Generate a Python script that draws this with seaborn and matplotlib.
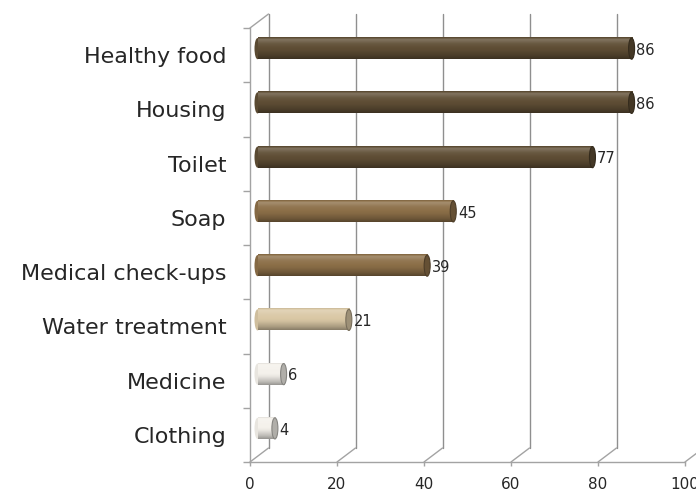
import numpy as np
import matplotlib
matplotlib.use("Agg")
import matplotlib.pyplot as plt
import matplotlib.transforms as mtransforms
from matplotlib.patches import Ellipse
from matplotlib.colors import to_rgb
import seaborn as sns

# Data
categories = ["Healthy food", "Housing", "Toilet", "Soap",
              "Medical check-ups", "Water treatment", "Medicine", "Clothing"]
values = [86, 86, 77, 45, 39, 21, 6, 4]
bar_colors = ["#5f4e35", "#5f4e35", "#5f4e35", "#8c6f48", "#8c6f48",
              "#dac8a5", "#f4f1eb", "#f4f1eb"]
x_ticks = [0, 20, 40, 60, 80, 100]

sns.set_theme(style="white")
plt.rcParams["font.family"] = ["DejaVu Sans"]

DPI = 100
fig = plt.figure(figsize=(6.96, 4.92), dpi=DPI)
# front plane of the pseudo-3D box
ax = fig.add_axes([250 / 696, 30 / 492, 435 / 696, 434 / 492])

sns.barplot(x=values, y=categories, hue=categories, palette=bar_colors,
            legend=False, orient="h", width=0.39, saturation=1, ax=ax,
            zorder=2)

ax.set_xlim(0, 100)
ax.set_ylim(7.5, -0.5)

grid_c = "#8f8f8f"
axis_c = "#a3a3a3"
text_c = "#262626"

# depth offsets (in inches at this dpi)
back_dx, back_dy = 18.5, 14
bar_dx, bar_dy = 7.5, 6.5
back_tr = ax.transData + mtransforms.ScaledTranslation(back_dx / DPI, back_dy / DPI, fig.dpi_scale_trans)
mid_tr = ax.transData + mtransforms.ScaledTranslation(bar_dx / DPI, bar_dy / DPI, fig.dpi_scale_trans)

# back wall gridlines and floor edges
for xv in x_ticks:
    ax.plot([xv, xv], [-0.5, 7.5], color=grid_c, lw=1.0, transform=back_tr,
            clip_on=False, zorder=0)
    ax.annotate("", xy=(xv, 7.5), xytext=(back_dx, back_dy),
                textcoords="offset pixels", annotation_clip=False,
                arrowprops=dict(arrowstyle="-", color=axis_c, lw=1.0,
                                shrinkA=0, shrinkB=0), zorder=0)
# left wall top edge
ax.annotate("", xy=(0, -0.5), xytext=(back_dx, back_dy),
            textcoords="offset pixels", annotation_clip=False,
            arrowprops=dict(arrowstyle="-", color=axis_c, lw=1.0,
                            shrinkA=0, shrinkB=0), zorder=0)


def shade(rgb, f):
    rgb = np.asarray(rgb)
    if f >= 1:
        return rgb + (1 - rgb) * (f - 1)
    return rgb * f


# cylinder shading across the bar height (top -> bottom)
t_knots = [0.0, 0.1, 0.3, 0.6, 0.85, 1.0]
f_knots = [0.9, 1.22, 1.06, 0.96, 0.78, 0.62]
t = np.linspace(0, 1, 64)
prof = np.interp(t, t_knots, f_knots)

cap_w = 6 / 4.35  # cap ellipse width in data units

for patch, v in zip(ax.patches, values):
    base = to_rgb(patch.get_facecolor())
    y0, h = patch.get_y(), patch.get_height()
    yc = y0 + h / 2
    patch.set_transform(mid_tr)
    patch.set_edgecolor("none")
    grad = np.array([shade(base, f) for f in prof])[:, None, :]
    # rounded left end
    ax.add_patch(Ellipse((0, yc), cap_w, h, facecolor=shade(base, 0.95),
                         edgecolor="none", transform=mid_tr, clip_on=False,
                         zorder=1.9))
    ax.imshow(grad, extent=(0, v, yc + h / 2, yc - h / 2), origin="upper",
              aspect="auto", interpolation="bilinear", transform=mid_tr,
              zorder=2.1)
    # end cap
    ax.add_patch(Ellipse((v, yc), cap_w, h, facecolor=shade(base, 0.72),
                         edgecolor=shade(base, 0.55), lw=0.8,
                         transform=mid_tr, clip_on=False, zorder=2.2))
    ax.text(v + cap_w / 2 + 0.4, yc + 0.03, f"{v}", transform=mid_tr,
            ha="left", va="center", fontsize=10.5, color=text_c, zorder=3)

ax.set_xlim(0, 100)
ax.set_ylim(7.5, -0.5)

# front frame
for side in ["top", "right"]:
    ax.spines[side].set_visible(False)
for side in ["left", "bottom"]:
    ax.spines[side].set_color(axis_c)
    ax.spines[side].set_linewidth(1.0)

ax.set_xticks(x_ticks)
ax.set_xticklabels([str(x) for x in x_ticks])
ax.set_yticks(range(len(categories)))
ax.set_yticklabels(categories)
ax.set_yticks(np.arange(-0.5, len(categories)), minor=True)
ax.tick_params(axis="x", which="major", direction="out", length=3,
               color=axis_c, width=1, labelsize=11, labelcolor=text_c, pad=8,
               bottom=True)
ax.tick_params(axis="y", which="major", length=0, labelsize=16,
               labelcolor=text_c, pad=17, left=True)
ax.tick_params(axis="y", which="minor", direction="out", length=5,
               color=axis_c, width=1, left=True)
ax.set_xlabel("")
ax.set_ylabel("")
ax.grid(False)

fig.savefig("out.png", dpi=DPI)
